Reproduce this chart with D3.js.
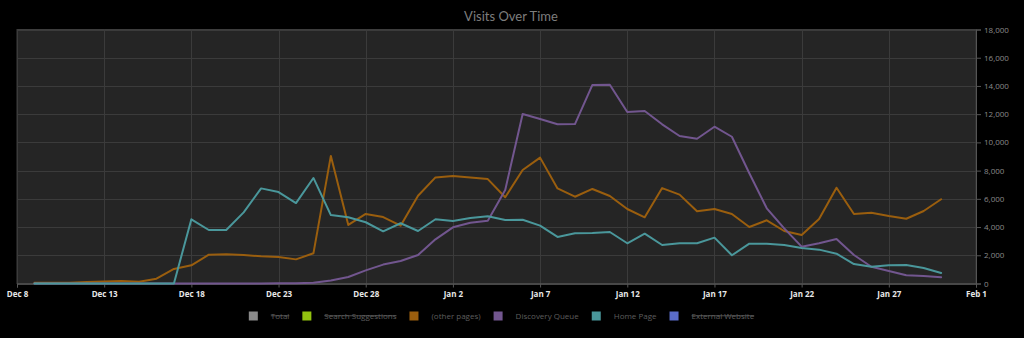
<!DOCTYPE html>
<html>
<head>
<meta charset="utf-8">
<script src="https://cdn.jsdelivr.net/npm/d3@7/dist/d3.min.js"></script>
<style>
  html, body { margin: 0; padding: 0; background: #000; }
  svg { display: block; }
</style>
</head>
<body>
<svg id="chart" width="1024" height="338"></svg>
<script>
// Daily visits, Dec 9 through Jan 30
const firstDay = "2016-12-09";
const otherPages = [50, 50, 50, 100, 150, 170, 130, 340, 1030, 1290, 2040, 2070, 2020, 1930, 1880, 1710, 2140, 9040, 4150, 4930, 4710, 4100, 6220,
  7520, 7620, 7520, 7400, 6110, 8040, 8920, 6740, 6150, 6700, 6200, 5280, 4690, 6760, 6300, 5120, 5280, 4930, 4000, 4480, 3720, 3440, 4570, 6790, 4930, 5020, 4780, 4590, 5140, 5970];
const discoveryQueue = [0, 0, 0, 0, 0, 0, 0, 0, 0, 0, 0, 0, 0, 0, 10, 20, 60, 210, 460, 930, 1340, 1590, 2020,
  3130, 3980, 4310, 4450, 6630, 12010, 11660, 11280, 11300, 14070, 14090, 12150, 12230, 11280, 10450, 10260, 11110, 10400, 7810, 5330, 3910, 2610, 2850, 3150, 2020, 1190, 890, 580, 530, 440];
const homePage = [0, 0, 0, 0, 0, 0, 0, 0, 0, 4550, 3790, 3790, 5040, 6740, 6480, 5700, 7480, 4850, 4700, 4340, 3700, 4270, 3720,
  4550, 4430, 4640, 4760, 4500, 4520, 4100, 3300, 3560, 3580, 3650, 2850, 3530, 2730, 2850, 2850, 3250, 2000, 2820, 2820, 2730, 2520, 2400, 2110, 1380, 1190, 1290, 1310, 1100, 740];

// Legend entries; hidden series are struck through and not drawn
const seriesNames = ["Total", "Search Suggestions", "(other pages)", "Discovery Queue", "Home Page", "External Website"];
const seriesColors = ["#8a8a8a", "#92c20f", "#9a5e0e", "#72568f", "#4a979b", "#5a6cc9"];
const seriesHidden = [true, true, false, false, false, true];
const seriesValues = [null, null, otherPages, discoveryQueue, homePage, null];

const yTicks = [0, 2000, 4000, 6000, 8000, 10000, 12000, 14000, 16000, 18000];
const xStart = "2016-12-08", xEnd = "2017-02-01";

const svg = d3.select("#chart");
const W = 1024, H = 338;
const m = { left: 17, right: 48, top: 29.5, bottom: 54.5 };
const pw = W - m.left - m.right, ph = H - m.top - m.bottom;

const parse = d3.utcParse("%Y-%m-%d");
const x = d3.scaleUtc().domain([parse(xStart), parse(xEnd)]).range([m.left, m.left + pw]);
const y = d3.scaleLinear().domain([0, 18000]).range([m.top + ph, m.top]);

const xTickDates = d3.utcDay.range(parse(xStart), d3.utcDay.offset(parse(xEnd), 1), 5);

// Title
svg.append("text")
  .attr("x", 511).attr("y", 21)
  .attr("text-anchor", "middle")
  .attr("fill", "#7d7d7d")
  .style("font", "13px Lato, 'Open Sans', sans-serif")
  .text("Visits Over Time");

// Plot background
svg.append("rect")
  .attr("x", m.left).attr("y", m.top).attr("width", pw).attr("height", ph)
  .attr("fill", "#252525").attr("stroke", "#3d3d3d").attr("stroke-width", 1);

// Grid
const grid = svg.append("g").attr("stroke", "#3b3b3b").attr("stroke-width", 1);
grid.selectAll("line.v").data(xTickDates).join("line")
  .attr("x1", d => Math.round(x(d)) + 0.5).attr("x2", d => Math.round(x(d)) + 0.5)
  .attr("y1", m.top).attr("y2", m.top + ph);
grid.selectAll("line.h").data(yTicks).join("line")
  .attr("x1", m.left).attr("x2", m.left + pw)
  .attr("y1", d => Math.round(y(d)) + 0.5).attr("y2", d => Math.round(y(d)) + 0.5);

// Axes
const xAxis = svg.append("g")
  .attr("transform", `translate(0,${m.top + ph})`)
  .call(d3.axisBottom(x).tickValues(xTickDates).tickFormat(d3.utcFormat("%b %-d")).tickSize(4).tickPadding(4));
xAxis.selectAll("path, line").attr("stroke", "#555");
xAxis.selectAll("text").attr("fill", "#e8e8e8")
  .style("font", "bold 8px 'Open Sans', sans-serif");

const yAxis = svg.append("g")
  .attr("transform", `translate(${m.left + pw},0)`)
  .call(d3.axisRight(y).tickValues(yTicks).tickFormat(d3.format(",")).tickSize(5).tickPadding(3));
yAxis.selectAll("path, line").attr("stroke", "#555");
yAxis.selectAll("text").attr("fill", "#8a8a8a")
  .style("font", "8px 'Open Sans', sans-serif");

// Series lines
const days = d3.range(otherPages.length).map(i => d3.utcDay.offset(parse(firstDay), i));
const line = d3.line().x((d, i) => x(days[i])).y(d => y(d));
const lines = svg.append("g").attr("fill", "none").attr("stroke-width", 2)
  .attr("stroke-linejoin", "round").attr("stroke-linecap", "round");
seriesValues.forEach((vals, k) => {
  if (!vals || seriesHidden[k]) return;
  lines.append("path").attr("d", line(vals)).attr("stroke", seriesColors[k]);
});

// Legend
const legend = svg.append("g").attr("transform", "translate(0,316)");
const items = legend.selectAll("g").data(seriesNames).join("g");
items.append("rect").attr("width", 9).attr("height", 9).attr("y", -4.5)
  .attr("fill", (d, i) => seriesColors[i]);
items.append("text").attr("x", 22).attr("dy", "0.35em")
  .attr("fill", "#5e5e5e")
  .attr("text-decoration", (d, i) => seriesHidden[i] ? "line-through" : null)
  .style("font", "8px 'Open Sans', sans-serif")
  .text(d => d);
let cx = 0;
const offsets = [];
items.each(function () {
  const w = d3.select(this).select("text").node().getComputedTextLength();
  offsets.push(cx);
  cx += 22 + w + 13;
});
const total = cx - 13;
const startX = 501.5 - total / 2;
items.attr("transform", (d, i) => `translate(${startX + offsets[i]},0)`);
</script>
</body>
</html>
